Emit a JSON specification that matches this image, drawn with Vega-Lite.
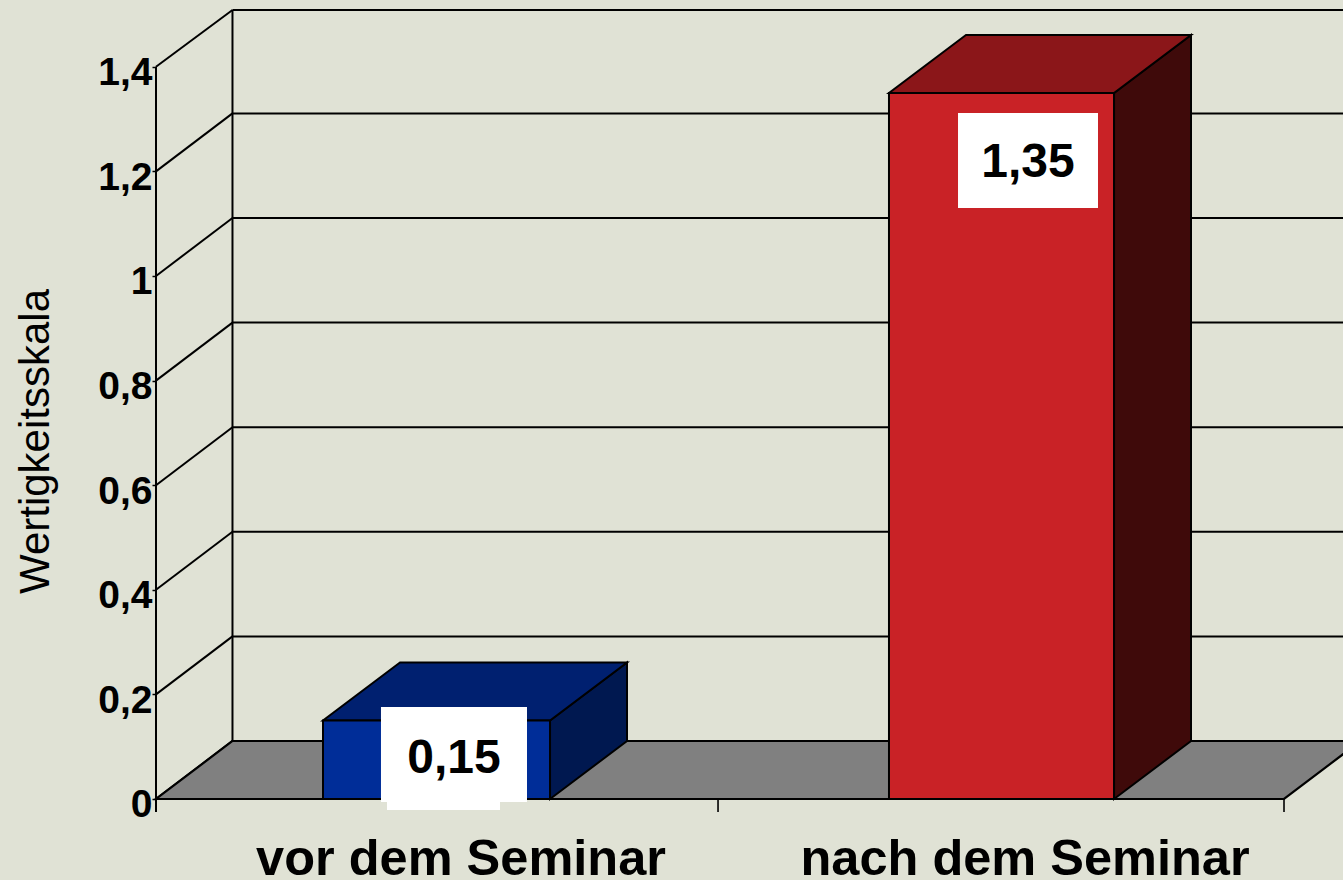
{
"$schema":"https://vega.github.io/schema/vega-lite/v6.json",
"width":1343,"height":880,
"autosize":{"type":"none"},
"padding":0,
"background":"#E0E2D5",
"config":{"view":{"stroke":null},"font":"Liberation Sans"},
"resolve":{"scale":{"fill":"independent"}},
"datasets":{
"bars":[
{"category":"vor dem Seminar","value":0.15,"left":0.2961,"right":0.6986,"labelX":0.5408},
{"category":"nach dem Seminar","value":1.35,"left":1.2996,"right":1.6986,"labelX":1.5408}
],
"sides":[
{"category":"vor dem Seminar","x":0.6986,"low":0,"high":0.15},
{"category":"vor dem Seminar","x":0.8351,"low":0.1109,"high":0.2609},
{"category":"nach dem Seminar","x":1.6986,"low":0,"high":1.35},
{"category":"nach dem Seminar","x":1.8351,"low":0.1109,"high":1.4609}
],
"tops":[
{"category":"vor dem Seminar","y":0.15,"xl":0.2961,"xr":0.6986},
{"category":"vor dem Seminar","y":0.2609,"xl":0.4326,"xr":0.8351},
{"category":"nach dem Seminar","y":1.35,"xl":1.2996,"xr":1.6986},
{"category":"nach dem Seminar","y":1.4609,"xl":1.4361,"xr":1.8351}
],
"floor":[
{"y":0,"xl":0,"xr":2},
{"y":0.1109,"xl":0.1356,"xr":2.1356}
],
"ticks":[
{"tick":0,"back":0.1109,"wallLeft":0,"wallBack":0.1356,"wallRight":2.1046},
{"tick":0.2,"back":0.3109,"wallLeft":0,"wallBack":0.1356,"wallRight":2.1046},
{"tick":0.4,"back":0.5109,"wallLeft":0,"wallBack":0.1356,"wallRight":2.1046},
{"tick":0.6,"back":0.7109,"wallLeft":0,"wallBack":0.1356,"wallRight":2.1046},
{"tick":0.8,"back":0.9109,"wallLeft":0,"wallBack":0.1356,"wallRight":2.1046},
{"tick":1,"back":1.1109,"wallLeft":0,"wallBack":0.1356,"wallRight":2.1046},
{"tick":1.2,"back":1.3109,"wallLeft":0,"wallBack":0.1356,"wallRight":2.1046},
{"tick":1.4,"back":1.5086,"wallLeft":0,"wallBack":0.1356,"wallRight":2.1046}
],
"uprights":[
{"x":0,"low":-0.0249,"high":1.4},
{"x":0.1356,"low":0.1109,"high":1.5086}
],
"xticks":[
{"x":0,"low":-0.0249,"high":0},
{"x":0.9965,"low":-0.0249,"high":0},
{"x":2,"low":-0.0249,"high":0}
],
"boxes":[
{"category":"vor dem Seminar","xl":0.3989,"xr":0.6578,"yl":-0.0057,"yh":0.1759},
{"category":"vor dem Seminar","xl":0.4096,"xr":0.6099,"yl":-0.021,"yh":-0.0057},
{"category":"nach dem Seminar","xl":1.422,"xr":1.6702,"yl":1.13,"yh":1.3117}
],
"labels":[
{"label":"0,15","x":0.5284,"y":0.0765},
{"label":"1,35","x":1.5461,"y":1.2161}
]
},
"layer":[
{"data":{"name":"ticks"},
 "mark":{"type":"rule","stroke":"#000000","strokeWidth":2},
 "encoding":{
  "x":{"field":"wallBack","type":"quantitative","scale":{"domain":[-0.2766,2.1046],"nice":false,"zero":false},"axis":null},
  "x2":{"field":"wallRight"},
  "y":{"field":"back","type":"quantitative","scale":{"domain":[-0.15488,1.5277],"nice":false,"zero":false},
   "axis":{"orient":"left","offset":-156,"values":[0,0.2,0.4,0.6,0.8,1,1.2,1.4],"grid":false,"domain":false,
    "labelExpr":"replace(format(datum.value,'.1~f'),'.',',')",
    "labelFont":"Liberation Sans","labelFontWeight":"bold","labelFontSize":39,"labelColor":"#000000","labelOffset":6,"labelPadding":0,"labelOverlap":false,"labelFlush":false,
    "tickColor":"#000000","tickSize":4,"tickWidth":1.5,
    "title":"Wertigkeitsskala","titleFont":"Liberation Sans","titleFontWeight":"normal","titleFontSize":42,"titleColor":"#000000","titleAngle":-90,"titleX":-108,"titleY":441,"titleAlign":"center","titleBaseline":"alphabetic"}},
  "y2":{"field":"back"}}},
{"data":{"name":"ticks"},
 "mark":{"type":"rule","stroke":"#000000","strokeWidth":2},
 "encoding":{
  "x":{"field":"wallLeft","type":"quantitative"},
  "x2":{"field":"wallBack"},
  "y":{"field":"tick","type":"quantitative"},
  "y2":{"field":"back"}}},
{"data":{"name":"uprights"},
 "mark":{"type":"rule","stroke":"#000000","strokeWidth":2},
 "encoding":{"x":{"field":"x","type":"quantitative"},"y":{"field":"low","type":"quantitative"},"y2":{"field":"high"}}},
{"data":{"name":"xticks"},
 "mark":{"type":"rule","stroke":"#000000","strokeWidth":1.6},
 "encoding":{"x":{"field":"x","type":"quantitative"},"y":{"field":"low","type":"quantitative"},"y2":{"field":"high"}}},
{"data":{"name":"floor"},
 "mark":{"type":"area","orient":"horizontal","fill":"#808080","stroke":"#000000","strokeWidth":2.2,"clip":true},
 "encoding":{"y":{"field":"y","type":"quantitative"},"x":{"field":"xl","type":"quantitative"},"x2":{"field":"xr"}}},
{"data":{"name":"sides"},
 "mark":{"type":"area","orient":"vertical","stroke":"#000000","strokeWidth":2},
 "encoding":{"x":{"field":"x","type":"quantitative"},"y":{"field":"low","type":"quantitative"},"y2":{"field":"high"},
  "fill":{"field":"category","type":"nominal","legend":null,"scale":{"domain":["vor dem Seminar","nach dem Seminar"],"range":["#001850","#3F0A0A"]}}}},
{"data":{"name":"tops"},
 "mark":{"type":"area","orient":"horizontal","stroke":"#000000","strokeWidth":2},
 "encoding":{"y":{"field":"y","type":"quantitative"},"x":{"field":"xl","type":"quantitative"},"x2":{"field":"xr"},
  "fill":{"field":"category","type":"nominal","legend":null,"scale":{"domain":["vor dem Seminar","nach dem Seminar"],"range":["#002070","#8B1619"]}}}},
{"data":{"name":"bars"},
 "mark":{"type":"rect","stroke":"#000000","strokeWidth":2},
 "encoding":{"x":{"field":"left","type":"quantitative"},"x2":{"field":"right"},"y":{"field":"value","type":"quantitative"},"y2":{"datum":0},
  "fill":{"field":"category","type":"nominal","legend":null,"scale":{"domain":["vor dem Seminar","nach dem Seminar"],"range":["#002D98","#C92226"]}}}},
{"data":{"name":"boxes"},
 "mark":{"type":"rect","fill":"#FFFFFF"},
 "encoding":{"x":{"field":"xl","type":"quantitative"},"x2":{"field":"xr"},"y":{"field":"yl","type":"quantitative"},"y2":{"field":"yh"}}},
{"data":{"name":"labels"},
 "mark":{"type":"text","font":"Liberation Sans","fontWeight":"bold","fontSize":48,"align":"center","baseline":"middle","fill":"#000000"},
 "encoding":{"x":{"field":"x","type":"quantitative"},"y":{"field":"y","type":"quantitative"},"text":{"field":"label"}}},
{"data":{"name":"bars"},
 "mark":{"type":"text","font":"Liberation Sans","fontWeight":"bold","fontSize":50.5,"align":"center","baseline":"alphabetic","fill":"#000000"},
 "encoding":{"x":{"field":"labelX","type":"quantitative"},"y":{"datum":-0.1453},"text":{"field":"category"}}}
]
}
